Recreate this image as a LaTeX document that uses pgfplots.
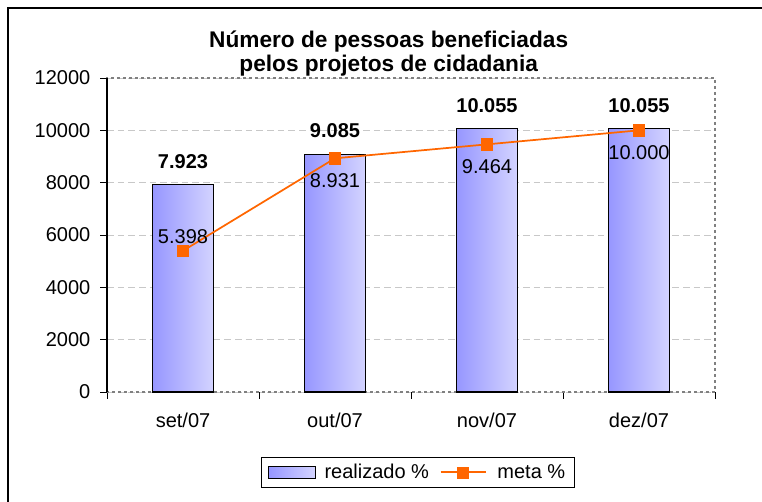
\documentclass[border=0pt]{standalone}
\usepackage{fontspec}
\setmainfont{Liberation Sans}
\usepackage{pgfplots}
\usepackage{pgfplotstable}
\pgfplotsset{compat=1.18}

\definecolor{barL}{RGB}{150,150,255}
\definecolor{barR}{RGB}{212,212,255}
\definecolor{metac}{RGB}{255,102,0}
\definecolor{gridc}{RGB}{200,200,200}
\definecolor{framec}{RGB}{128,128,128}
\newcommand\cf{\fontsize{15}{18}\selectfont}

% realizado (barras)
\pgfplotstableread{
x y
0 7923
1 9085
2 10055
3 10055
}\realtab

% meta (linha)
\pgfplotstableread{
x y
0 5398
1 8931
2 9464
3 10000
}\metatab

\begin{document}
\begin{tikzpicture}
\useasboundingbox (0pt,0pt) rectangle (571.5pt,376.5pt);
\draw[black,line width=1.4pt] (6pt,0pt) -- (6pt,370.5pt) -- (571.5pt,370.5pt);

\node[anchor=base,font=\fontsize{17}{20}\selectfont\bfseries] at (291.5pt,341pt)
  {Número de pessoas beneficiadas};
\node[anchor=base,font=\fontsize{17}{20}\selectfont\bfseries] at (291.5pt,322.5pt)
  {pelos projetos de cidadania};

\begin{axis}[
  at={(80.25pt,82.5pt)}, anchor=south west,
  scale only axis, width=456pt, height=235.5pt,
  xmin=-0.5, xmax=3.5, ymin=0, ymax=12000,
  ytick={0,2000,...,12000}, scaled y ticks=false,
  xtick={-0.5,0.5,1.5,2.5,3.5}, xticklabels={},
  extra x ticks={0,1,2,3},
  extra x tick labels={set/07,out/07,nov/07,dez/07},
  extra x tick style={major tick length=0pt,
    xticklabel style={yshift=-12pt}},
  ytick pos=left, xtick pos=bottom,
  tick align=outside, major tick length=5pt,
  tick style={black,line width=0.6pt},
  ymajorgrids, grid style={gridc,dash pattern=on 5pt off 3pt,line width=0.7pt},
  axis line style={framec,dash pattern=on 2.5pt off 2pt,line width=1pt},
  tick label style={font=\cf,text=black},
  /pgf/number format/assume math mode=true,
  /pgf/number format/1000 sep={.},
  yticklabel style={/pgf/number format/1000 sep={},xshift=-4pt},
  legend columns=2,
  legend style={at={(0.5115,-0.255)},anchor=center,draw=black,line width=0.6pt,
    font=\cf,inner xsep=5pt,inner ysep=3pt,
    /tikz/every even column/.append style={column sep=6pt}},
  clip=false,
]
\draw[black,line width=0.8pt] (rel axis cs:0,0) -- (rel axis cs:0,1);

% uma barra por plot, para o degrade de cada barra
\pgfplotsset{barstyle/.style={ybar, bar width=45.75pt, bar shift=0pt,
  draw=black, line width=0.9pt, left color=barL, right color=barR}}
\addplot[barstyle,
  legend image code/.code={\draw[draw=black,line width=0.8pt,left color=barL,right color=barR]
    (0pt,-4.5pt) rectangle (35pt,4.5pt); \path (39.5pt,0pt);}]
  coordinates {(0,7923)};
\addlegendentry{realizado \%}
\addplot[barstyle, forget plot] coordinates {(1,9085)};
\addplot[barstyle, forget plot] coordinates {(2,10055)};
\addplot[barstyle, forget plot] coordinates {(3,10055)};

\addplot[draw=none, mark=none, forget plot,
  nodes near coords={\bfseries\pgfmathprintnumber{\pgfplotspointmeta}},
  nodes near coords style={font=\cf,text=black,anchor=south,inner sep=0pt,yshift=12pt},
  point meta=y]
  table[x=x,y=y]{\realtab};

\addplot[metac, line width=1.3pt, mark=square*, mark size=4pt,
  mark options={solid,fill=metac,draw=metac},
  legend image code/.code={\draw[metac,line width=1.3pt] (0pt,0pt) -- (34pt,0pt);
    \fill[metac] (13pt,-4.5pt) rectangle (21pt,3.5pt); \path (40pt,0pt);}]
  table[x=x,y=y]{\metatab};
\addlegendentry{meta \%}

% rotulos da meta
\addplot[draw=none, mark=none, forget plot,
  nodes near coords, point meta=y,
  nodes near coords style={font=\cf,text=black,inner sep=0pt,anchor=south,yshift=5pt}]
  coordinates {(0,5398)};
\addplot[draw=none, mark=none, forget plot,
  nodes near coords, point meta=y,
  nodes near coords style={font=\cf,text=black,inner sep=0pt,anchor=north,yshift=-11pt}]
  coordinates {(1,8931) (2,9464) (3,10000)};
\end{axis}
\end{tikzpicture}
\end{document}
